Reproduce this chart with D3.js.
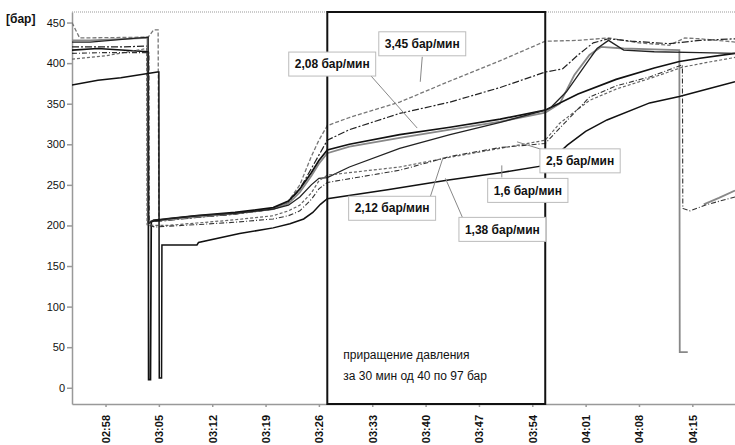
<!DOCTYPE html>
<html>
<head>
<meta charset="utf-8">
<script src="https://cdn.jsdelivr.net/npm/d3@7"></script>
<style>
  body { margin: 0; background: #fff; }
  text { font-family: "Liberation Sans", Arial, sans-serif; fill: #111; }
</style>
</head>
<body>
<div id="chart"></div>
<script>
// time = minutes after midnight, values in bar
const s1Time = [173.6,174.6,183.6,184.3,184.9,185.0,186,190,195,200,202,203.5,205,206,207.1,210,216.6,223.2,229.8,235.7,240,244,248,252,254,256,260.6];
const s1Bar  = [450,431,432,441,441,206,207,210,214,220,230,250,285,305,323,333,352,378,403,427,428,431,425,422,431,430,426];

const s2Time = [173.6,180,183.5,183.55,184.3,186,190,195,200,202,203.5,205,206.5,207.1,210,216.6,223.2,229.8,235.7,238,240,242,244,247,252,256,260.6];
const s2Bar  = [420,420,421,203,205,206,210,214,220,228,245,270,295,305,318,338,352,370,389,393,410,425,430,427,424,428,430];

const s3Time = [173.6,177,183.6,183.65,183.9,184.0,186,190,195,200,202,203.5,205,206,207.1,210,216.6,223.2,229.8,235.7,240,245,250,253.3,256,260.6];
const s3Bar  = [416,418,414,10,10,205,208,212,216,222,230,245,265,280,293,300,312,321,331,342,362,380,394,402,406,412];

const s4Time = [173.6,176,183.6,183.65,184.3,186,190,195,200,202,203.5,205,206,207.1,210,216.6,223.2,229.8,235.7,236.5,238.5,240,241.5,242.5,244,246,250,256,260.6];
const s4Bar  = [426,426,432,202,207,208,212,215,220,225,235,250,258,259,272,295,312,327,342,346,365,385,405,418,428,416,414,413,412];

const s5Time = [173.6,178,183.4,183.45,184.5,186,190,195,200,202,203.5,205,206,207.1,216.6,223.2,229.8,235.7,237.6,241.5,245,249.4,253.7,257,260.6];
const s5Bar  = [405,409,418,201,200,200,203,207,212,218,225,240,255,262,272,284,295,305,326,354,368,381,395,401,407];

const s6Time = [173.6,178,183.7,183.75,184.5,186,190,195,200,202,203.5,205,206,207.1,216.6,223.2,229.8,235.7,237.6,241.5,245,249.4,253.7,253.75,254.7,257,260.6];
const s6Bar  = [412,413,413,200,198,199,201,204,208,212,218,232,245,253,268,285,296,301,320,358,372,383,398,221,218,226,235];

const s7Time = [173.6,177,180,184.8,185.0,185.05,185.35,185.4,190,190.2,195.6,200,202.2,204,205.2,206.2,207.1,215,223,229.8,235.7,238.6,241,243.8,249.4,253.3,257,260.6];
const s7Bar  = [373,379,382,389,389,12,12,176,176,179,190,197,202,208,216,226,233,244,256,265,274,299,316,330,351,359,368,377];

const s8Time = [173.6,176,183.5,183.55,184.5,186,190,195,200,202,203.5,205,206,207.1,210,216.6,223.2,229.8,235.7,237.6,239.5,241.5,243,246,250,253.3,253.35,254.4,254.5,256.5,258.5,260.6];
const s8Bar  = [428,428,431,204,206,207,211,215,220,227,241,261,276,289,297,308,318,328,339,350,385,410,420,418,417,416,44,44,null,226,234,243];

const xTicks = [178,185,192,199,206,213,220,227,234,241,248,255];
const yTicks = [0,50,100,150,200,250,300,350,400,450];

const rateLabels = ["3,45 бар/мин","2,08 бар/мин","2,12 бар/мин","1,38 бар/мин","1,6 бар/мин","2,5 бар/мин"];
const rateTime   = [219.3,218.9,222.3,222.6,230.0,232.0];
const rateBar    = [377,320,284,258,274,303];

const boxTime = [207.1, 235.7];
const noteLines = ["приращение давления", "за 30 мин од 40 по 97 бар"];

const margin = {top: 12, right: 0, bottom: 41, left: 72};
const W = 735, H = 445;
const width = W - margin.left - margin.right;
const height = H - margin.top - margin.bottom;

const svg = d3.select("#chart").append("svg")
    .attr("width", W).attr("height", H);

const g = svg.append("g")
    .attr("transform", "translate(" + margin.left + "," + margin.top + ")");

const x = d3.scaleLinear().domain([173.6, 260.6]).range([0, width]);
const y = d3.scaleLinear().domain([-20, 463]).range([height, 0]);

const fmt = m => {
    const h = Math.floor(m / 60), mm = Math.round(m % 60);
    return String(h).padStart(2, "0") + ":" + String(mm).padStart(2, "0");
};

// dotted frame on top
g.append("line")
    .attr("x1", 0).attr("x2", width).attr("y1", 0).attr("y2", 0)
    .attr("stroke", "#999").attr("stroke-dasharray", "1,1");

// axes
const yAxis = g.append("g")
    .call(d3.axisLeft(y).tickValues(yTicks).tickSize(5).tickSizeOuter(0).tickPadding(2));
yAxis.selectAll("text").style("font-size", "11px");

const xAxis = g.append("g")
    .attr("transform", "translate(0," + height + ")")
    .call(d3.axisBottom(x).tickValues(xTicks).tickFormat(fmt).tickSize(3).tickSizeOuter(0));
xAxis.selectAll("text")
    .style("font-size", "11px").style("font-weight", "bold")
    .attr("text-anchor", "end")
    .attr("transform", "translate(0,11) rotate(-90)")
    .attr("x", 0).attr("y", 0).attr("dy", "0.35em");

svg.selectAll(".domain, .tick line").attr("stroke", "#999").attr("stroke-width", 1.5);

svg.append("text")
    .attr("x", 6).attr("y", 23)
    .style("font-size", "12px").style("font-weight", "bold")
    .text("[бар]");

// series
const series = [
    {t: s1Time, v: s1Bar, color: "#777", w: 1.3, dash: "4,2"},
    {t: s2Time, v: s2Bar, color: "#222", w: 1.2, dash: "7,2,2,2"},
    {t: s8Time, v: s8Bar, color: "#888", w: 1.8, dash: null},
    {t: s3Time, v: s3Bar, color: "#111", w: 1.7, dash: null},
    {t: s4Time, v: s4Bar, color: "#222", w: 1.3, dash: null},
    {t: s5Time, v: s5Bar, color: "#666", w: 1.2, dash: "3,2"},
    {t: s6Time, v: s6Bar, color: "#333", w: 1.1, dash: "5,2,1,2"},
    {t: s7Time, v: s7Bar, color: "#111", w: 1.5, dash: null}
];

g.append("clipPath").attr("id", "plot")
    .append("rect").attr("width", width).attr("height", height);

const line = d3.line()
    .defined(d => d.v != null)
    .x(d => x(d.t))
    .y(d => y(d.v));

g.append("g").attr("clip-path", "url(#plot)")
    .selectAll("path")
    .data(series)
    .join("path")
    .attr("d", s => line(s.t.map((t, i) => ({t: t, v: s.v[i]}))))
    .attr("fill", "none")
    .attr("stroke", s => s.color)
    .attr("stroke-width", s => s.w)
    .attr("stroke-dasharray", s => s.dash);

// 30 min window
g.append("rect")
    .attr("x", x(boxTime[0])).attr("y", 0)
    .attr("width", x(boxTime[1]) - x(boxTime[0]))
    .attr("height", height)
    .attr("fill", "none").attr("stroke", "#111").attr("stroke-width", 2);

g.selectAll(".note")
    .data(noteLines)
    .join("text")
    .attr("class", "note")
    .attr("x", x(boxTime[0]) + 16)
    .attr("y", (d, i) => 347 + i * 21)
    .style("font-size", "12px")
    .text(d => d);

// rate labels: box offset from tip, leader start from box centre
const labelLayout = [
    {dx: 2,   dy: -38, lx: 0,   ly: 13},
    {dx: -85, dy: -64, lx: 38,  ly: 11},
    {dx: -51, dy: 51,  lx: 38,  ly: -11},
    {dx: 57,  dy: 51,  lx: -40, ly: -12},
    {dx: 26,  dy: 25,  lx: -26, ly: -13},
    {dx: 63,  dy: 19,  lx: -37, ly: -11}
];

rateLabels.forEach((label, i) => {
    const px = x(rateTime[i]), py = y(rateBar[i]);
    const L = labelLayout[i];
    const cx = px + L.dx, cy = py + L.dy;
    g.append("line")
        .attr("x1", cx + L.lx).attr("y1", cy + L.ly)
        .attr("x2", px).attr("y2", py)
        .attr("stroke", "#888").attr("stroke-width", 1);
    const box = g.append("rect").attr("fill", "#fff").attr("stroke", "#bbb");
    const txt = g.append("text")
        .attr("x", cx).attr("y", cy).attr("dy", "0.35em")
        .attr("text-anchor", "middle")
        .style("font-size", "12px").style("font-weight", "bold")
        .text(label);
    const bb = txt.node().getBBox();
    box.attr("x", bb.x - 6).attr("y", cy - 12)
        .attr("width", bb.width + 12).attr("height", 24);
});
</script>
</body>
</html>
